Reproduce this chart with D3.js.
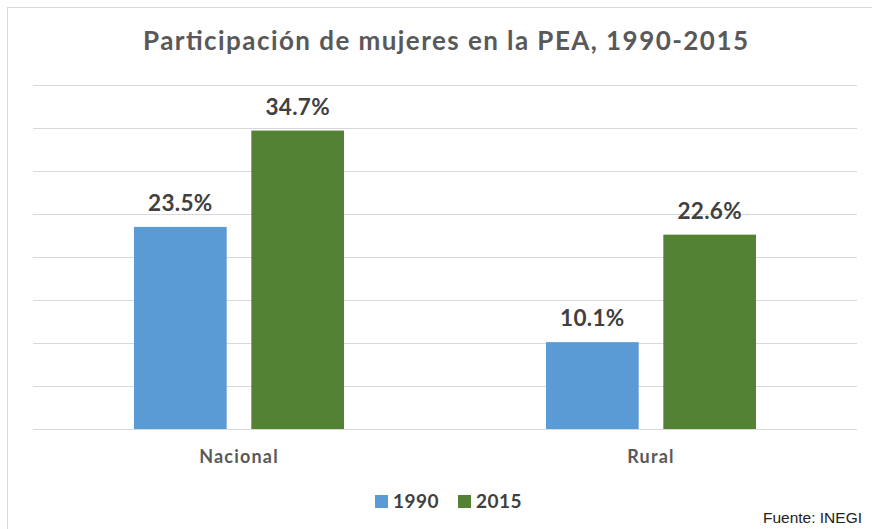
<!DOCTYPE html>
<html><head><meta charset="utf-8">
<script src="https://cdn.jsdelivr.net/npm/d3@7"></script>
<style>body{margin:0;background:#fff}svg{display:block}</style>
</head><body><svg id="c" width="872" height="529"></svg>
<script>
const categories = ["Nacional", "Rural"];
const series = ["1990", "2015"];
const values1990 = [23.5, 10.1];
const values2015 = [34.7, 22.6];
const yTicks = [0, 5, 10, 15, 20, 25, 30, 35, 40];
const colors = ["#5B9BD5", "#548235"];
const title = "Participación de mujeres en la PEA, 1990-2015";
const source = "Fuente: INEGI";

(function () {
const data = categories.map((c, i) => ({cat: c, vals: [values1990[i], values2015[i]]}));
const svg = d3.select("#c");
svg.append("rect").attr("x", 7.5).attr("y", 7.5).attr("width", 880).attr("height", 540)
  .attr("fill", "#fff").attr("stroke", "#d9d9d9");

const pL = 33, pR = 857, pT = 85, pB = 429;
const y = d3.scaleLinear().domain([0, 40]).range([pB, pT]);
const x0 = d3.scaleBand().domain(categories).range([pL, pR]).padding(0);
const groupW = 210;
const x1 = d3.scaleBand().domain(series)
  .range([(x0.bandwidth() - groupW) / 2, (x0.bandwidth() + groupW) / 2]).paddingInner(0.21);

svg.append("g").selectAll("line").data(yTicks).join("line")
  .attr("x1", pL).attr("x2", pR)
  .attr("y1", d => Math.round(y(d)) + 0.5).attr("y2", d => Math.round(y(d)) + 0.5)
  .attr("stroke", "#d9d9d9").attr("stroke-width", 1);

const g = svg.append("g").selectAll("g").data(data).join("g")
  .attr("transform", d => `translate(${x0(d.cat)},0)`);
g.selectAll("rect").data(d => d.vals.map((v, i) => ({s: series[i], v, i}))).join("rect")
  .attr("x", d => x1(d.s)).attr("width", x1.bandwidth())
  .attr("y", d => y(d.v)).attr("height", d => y(0) - y(d.v))
  .attr("fill", d => colors[d.i]);
g.selectAll("text").data(d => d.vals.map((v, i) => ({s: series[i], v, i}))).join("text")
  .attr("x", d => x1(d.s) + x1.bandwidth() / 2).attr("y", d => y(d.v) - 16)
  .attr("text-anchor", "middle").attr("font-family", "Lato, sans-serif")
  .attr("font-weight", "bold").attr("font-size", 22.5).attr("fill", "#404040")
  .attr("letter-spacing", 0.3)
  .text(d => d.v.toFixed(1) + "%");

svg.append("line").attr("x1", pL).attr("x2", pR).attr("y1", pB + 0.5).attr("y2", pB + 0.5)
  .attr("stroke", "#d9d9d9");

svg.append("g").selectAll("text").data(categories).join("text")
  .attr("x", d => x0(d) + x0.bandwidth() / 2).attr("y", 463)
  .attr("text-anchor", "middle").attr("font-family", "Lato, sans-serif")
  .attr("font-weight", "bold").attr("letter-spacing", 1.2)
  .attr("font-size", 18).attr("fill", "#595959").text(d => d);

svg.append("text").attr("x", 143).attr("y", 50)
  .attr("font-family", "Lato, sans-serif").attr("font-weight", "bold")
  .attr("font-size", 26).attr("fill", "#595959")
  .attr("textLength", 605).attr("lengthAdjust", "spacing")
  .text(title);

const legX = [375, 458];
const lg = svg.append("g").selectAll("g").data(series).join("g")
  .attr("transform", (d, i) => `translate(${legX[i]},0)`);
lg.append("rect").attr("x", 0).attr("y", 495).attr("width", 13).attr("height", 13)
  .attr("fill", (d, i) => colors[i]);
lg.append("text").attr("x", 18).attr("y", 508).attr("font-family", "Lato, sans-serif")
  .attr("font-weight", "bold").attr("font-size", 19).attr("letter-spacing", 0.5)
  .attr("fill", "#404040").text(d => d);

svg.append("text").attr("x", 862).attr("y", 523).attr("text-anchor", "end")
  .attr("font-family", "Liberation Sans, Arial, sans-serif").attr("font-size", 15.5)
  .attr("fill", "#222").text(source);
})();
</script></body></html>
